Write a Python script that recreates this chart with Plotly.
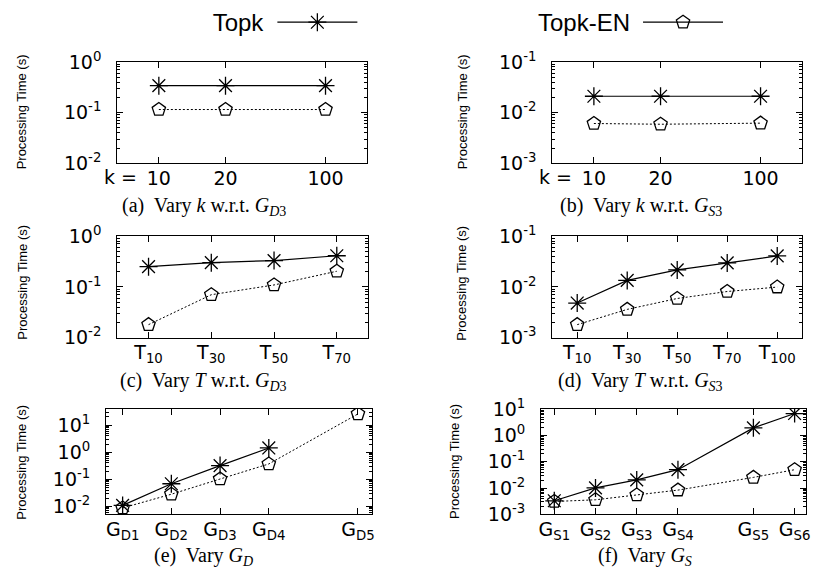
import plotly.graph_objects as go

W, H = 826, 587

# ---------------- data ----------------
k_labels = ["10", "20", "100"]
k_pos = [1, 2.6, 5]
a_topk = [0.34, 0.34, 0.34]
a_en = [0.115, 0.115, 0.115]
b_topk = [0.021, 0.021, 0.021]
b_en = [0.0061, 0.0059, 0.0062]

c_labels = ["T<sub>10</sub>", "T<sub>30</sub>", "T<sub>50</sub>", "T<sub>70</sub>"]
c_pos = [1, 2, 3, 4]
c_topk = [0.25, 0.30, 0.33, 0.41]
c_en = [0.018, 0.070, 0.109, 0.203]

d_labels = ["T<sub>10</sub>", "T<sub>30</sub>", "T<sub>50</sub>", "T<sub>70</sub>", "T<sub>100</sub>"]
d_pos = [1, 2, 3, 4, 5]
d_topk = [0.0048, 0.0134, 0.0216, 0.0296, 0.0407]
d_en = [0.0018, 0.0036, 0.0059, 0.0081, 0.0099]

e_labels = ["G<sub>D1</sub>", "G<sub>D2</sub>", "G<sub>D3</sub>", "G<sub>D4</sub>", "G<sub>D5</sub>"]
e_pos = [1, 2, 3, 4, 5.83]
e_topk = [0.0108, 0.068, 0.32, 1.43]
e_en = [0.0087, 0.028, 0.102, 0.367, 25.9]

f_labels = ["G<sub>S1</sub>", "G<sub>S2</sub>", "G<sub>S3</sub>", "G<sub>S4</sub>", "G<sub>S5</sub>", "G<sub>S6</sub>"]
f_pos = [1, 2, 3, 4, 5.83, 6.83]
f_topk = [0.0033, 0.0102, 0.0204, 0.050, 1.94, 6.8]
f_en = [0.0031, 0.0036, 0.0055, 0.0084, 0.0255, 0.050]

captions = [
    "(a)\u00a0 Vary <i>k</i> w.r.t. <i>G</i><sub><i>D</i>3</sub>",
    "(b)\u00a0 Vary <i>k</i> w.r.t. <i>G</i><sub><i>S</i>3</sub>",
    "(c)\u00a0 Vary <i>T</i> w.r.t. <i>G</i><sub><i>D</i>3</sub>",
    "(d)\u00a0 Vary <i>T</i> w.r.t. <i>G</i><sub><i>S</i>3</sub>",
    "(e)\u00a0 Vary <i>G</i><sub><i>D</i></sub>",
    "(f)\u00a0 Vary <i>G</i><sub><i>S</i></sub>",
]
y_title = "Processing Time (s)"
series_names = ["Topk", "Topk-EN"]

# ---------------- layout helpers ----------------
def px_x(v):
    return v / W

def px_y(v):
    return 1 - v / H

TICK_FONT = dict(family="DejaVu Sans", size=19, color="black")

panels = [
    dict(xp=(116, 370), yp=(50, 156), xr=[0, 6], yr=[-2, 0], yexp=[-2, -1, 0],
         pos=k_pos, labels=k_labels, tk=a_topk, en=a_en,
         cap=(204, 201), yt=(19, 102)),
    dict(xp=(558, 812), yp=(50, 156), xr=[0, 6], yr=[-3, -1], yexp=[-3, -2, -1],
         pos=k_pos, labels=k_labels, tk=b_topk, en=b_en,
         cap=(648, 201), yt=(467, 102)),
    dict(xp=(116, 371), yp=(232, 338), xr=[0.5, 4.5], yr=[-2, 0], yexp=[-2, -1, 0],
         pos=c_pos, labels=c_labels, tk=c_topk, en=c_en,
         cap=(204, 384), yt=(19, 280)),
    dict(xp=(558, 812), yp=(232, 338), xr=[0.5, 5.5], yr=[-3, -1], yexp=[-3, -2, -1],
         pos=d_pos, labels=d_labels, tk=d_topk, en=d_en,
         cap=(648, 384), yt=(465, 281)),
    dict(xp=(104.7, 375), yp=(412.7, 522.7), xr=[0.66, 6.12], yr=[-2.3, 1.59], yexp=[-2, -1, 0, 1],
         pos=e_pos, labels=e_labels, tk=e_topk, en=e_en,
         cap=(204, 567), yt=(18, 468)),
    dict(xp=(546.7, 816), yp=(412.7, 522.7), xr=[0.68, 7.11], yr=[-3, 1], yexp=[-3, -2, -1, 0, 1],
         pos=f_pos, labels=f_labels, tk=f_topk, en=f_en,
         cap=(652, 567), yt=(458, 467)),
]

TOPK_LINE = dict(color="black", width=1.2)
TOPK_MARKER = dict(symbol="asterisk-open", size=15, color="black",
                   line=dict(color="black", width=1.3))
EN_MARKER = dict(symbol="pentagon-open", size=14, color="black",
                 line=dict(color="black", width=1.3))

fig = go.Figure()
annotations = []
layout_axes = {}

for i, p in enumerate(panels):
    n = "" if i == 0 else str(i + 1)
    xa, ya = "x" + n, "y" + n
    fig.add_trace(go.Scatter(
        x=p["pos"][:len(p["tk"])], y=p["tk"], xaxis=xa, yaxis=ya,
        name=series_names[0], mode="lines+markers",
        line=TOPK_LINE, marker=TOPK_MARKER, showlegend=False,
    ))
    fig.add_trace(go.Scatter(
        x=p["pos"][:len(p["en"])], y=p["en"], xaxis=xa, yaxis=ya,
        name=series_names[1], mode="lines+markers",
        line=dict(color="black", width=1, dash="2px,2px"),
        marker=EN_MARKER, showlegend=False,
    ))
    minor_vals = []
    for d in range(int(p["yr"][0]) - 1, int(p["yr"][1]) + 1):
        for m in range(2, 10):
            minor_vals.append(m * 10 ** d)
    layout_axes["xaxis" + n] = dict(
        domain=[px_x(p["xp"][0]), px_x(p["xp"][1])], anchor=ya,
        range=p["xr"], tickmode="array", tickvals=p["pos"], ticktext=p["labels"],
        ticks="inside", ticklen=6, tickcolor="black", showline=True,
        linecolor="black", linewidth=1, mirror="ticks", showgrid=False,
        zeroline=False, tickfont=TICK_FONT, ticklabelstandoff=-2,
    )
    layout_axes["yaxis" + n] = dict(
        domain=[px_y(p["yp"][1]), px_y(p["yp"][0])], anchor=xa,
        type="log", range=p["yr"], tickmode="array",
        tickvals=[10 ** e for e in p["yexp"]],
        ticktext=["10<sup>%d</sup>" % e for e in p["yexp"]],
        ticks="inside", ticklen=6, tickcolor="black", showline=True,
        linecolor="black", linewidth=1, mirror="ticks", showgrid=False,
        zeroline=False, tickfont=TICK_FONT, ticklabelstandoff=11,
        minor=dict(tickmode="array", tickvals=minor_vals, ticks="inside",
                   ticklen=3, tickwidth=1, tickcolor="black", showgrid=False),
    )
    annotations.append(dict(
        text=captions[i], x=px_x(p["cap"][0]), y=px_y(p["cap"][1]),
        xref="paper", yref="paper", xanchor="center", yanchor="middle",
        showarrow=False, font=dict(family="Liberation Serif", size=20, color="black"),
    ))
    annotations.append(dict(
        text=y_title, x=px_x(p["yt"][0]), y=px_y(p["yt"][1]), textangle=-90,
        xref="paper", yref="paper", xanchor="center", yanchor="middle",
        showarrow=False,
        font=dict(family="Liberation Sans", size=13, color="black"),
    ))
    if i < 2:
        annotations.append(dict(
            text="k =", x=p["pos"][0], xref=xa, xshift=-20,
            y=px_y(170), yref="paper", xanchor="right", yanchor="middle",
            showarrow=False, font=TICK_FONT,
        ))

# legend keys (no data, only shown in the legends)
fig.add_trace(go.Scatter(x=[None], y=[None], name=series_names[0],
                         mode="lines+markers", line=TOPK_LINE, marker=TOPK_MARKER,
                         legend="legend", showlegend=True))
fig.add_trace(go.Scatter(x=[None], y=[None], name=series_names[1],
                         mode="lines+markers", line=dict(color="black", width=1.2),
                         marker=EN_MARKER, legend="legend2", showlegend=True))

legend_common = dict(
    orientation="h", yanchor="middle", y=px_y(9), xanchor="left",
    bgcolor="rgba(0,0,0,0)", font=dict(family="Liberation Sans", size=24, color="rgba(0,0,0,0)"),
    itemwidth=80, borderwidth=0,
)

fig.update_layout(
    width=W, height=H, margin=dict(l=0, r=0, t=0, b=0),
    paper_bgcolor="white", plot_bgcolor="white",
    annotations=annotations,
    legend=dict(legend_common, x=px_x(211),
                title=dict(text=series_names[0], side="left",
                           font=dict(family="Liberation Sans", size=24, color="black"))),
    legend2=dict(legend_common, x=px_x(542),
                 title=dict(text=series_names[1], side="left",
                            font=dict(family="Liberation Sans", size=24, color="black"))),
    **layout_axes,
)

fig.write_html("out.html", config={"displayModeBar": False},
               post_script="document.body.style.margin='0px';document.body.style.overflow='hidden';")
